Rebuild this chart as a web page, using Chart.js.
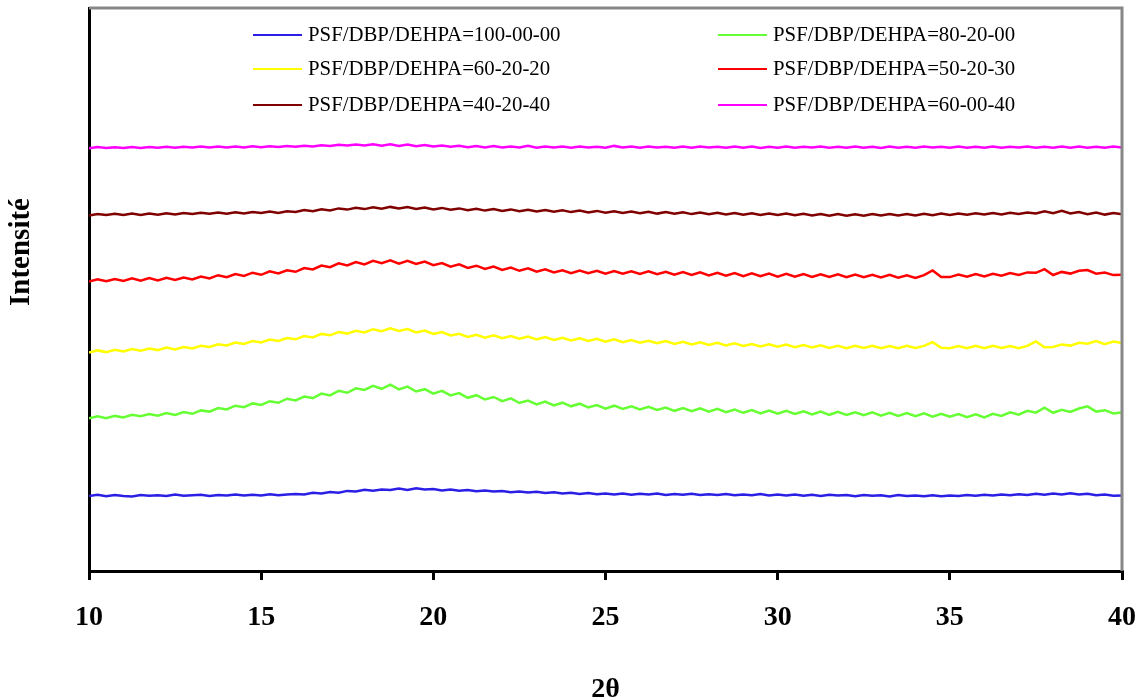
<!DOCTYPE html>
<html>
<head>
<meta charset="utf-8">
<title>DRX des membranes PSF/DBP/DEHPA</title>
<script src="https://cdn.jsdelivr.net/npm/chart.js@4.4.1/dist/chart.umd.min.js"></script>
<style>
  body { margin: 0; background: #fff; }
  #wrap { width: 1148px; height: 700px; }
</style>
</head>
<body>
<div id="wrap"><canvas id="xrd" width="1148" height="700"></canvas></div>
<script>
// 2θ scan: 10° to 40°, 0.25° step
const thetaStart = 10;
const thetaStep = 0.25;
const pointCount = 121;
const twoTheta = Array.from({ length: pointCount }, (_, i) => thetaStart + i * thetaStep);

const xTicks = [10, 15, 20, 25, 30, 35, 40];

const seriesLabels = [
  'PSF/DBP/DEHPA=100-00-00',
  'PSF/DBP/DEHPA=80-20-00',
  'PSF/DBP/DEHPA=60-20-20',
  'PSF/DBP/DEHPA=50-20-30',
  'PSF/DBP/DEHPA=40-20-40',
  'PSF/DBP/DEHPA=60-00-40'
];
const seriesColors = ['#2b1fe6', '#66ff33', '#ffff00', '#ff0000', '#800000', '#ff00ff'];

// intensities (arbitrary units, curves stacked with an offset)
const int100_00_00 = [
  75.0, 76.2, 74.8, 75.9, 75.1, 74.6, 76.0, 75.3,
  75.8, 74.9, 76.4, 75.2, 75.7, 76.3, 75.0, 76.1,
  75.5, 76.6, 75.4, 76.2, 75.6, 76.8, 75.7, 76.5,
  77.0, 76.6, 78.2, 77.4, 79.0, 78.3, 80.1, 79.6,
  81.3, 80.2, 81.6, 80.9, 82.4, 81.1, 82.8, 81.4,
  82.0, 80.6, 81.5, 80.2, 81.0, 79.7, 80.6, 79.5,
  80.1, 78.7, 79.6, 78.4, 79.2, 77.9, 78.7, 77.6,
  78.3, 77.1, 77.9, 76.8, 77.4, 76.5, 77.6, 76.3,
  77.2, 76.4, 77.5, 76.1, 77.0, 76.2, 77.3, 75.9,
  76.8, 76.0, 77.1, 75.8, 76.6, 75.7, 76.9, 75.6,
  76.4, 75.5, 76.6, 75.3, 76.2, 75.1, 76.3, 75.4,
  75.9, 74.8, 76.0, 75.2, 75.7, 74.6, 75.9, 74.9,
  75.6, 74.7, 75.8, 74.8, 75.4, 74.9, 76.0, 75.3,
  76.2, 75.4, 76.5, 75.8, 76.7, 75.9, 77.2, 76.3,
  77.4, 76.6, 77.8, 76.5, 77.3, 75.8, 76.4, 75.2,
  75.6
];

const int80_20_00 = [
  152.6, 154.8, 152.9, 155.1, 153.6, 156.3, 154.7, 156.9,
  155.3, 158.0, 156.1, 158.9, 157.2, 160.6, 159.4, 162.9,
  161.5, 165.3, 163.8, 167.6, 166.0, 169.8, 168.2, 172.3,
  170.6, 174.5, 172.9, 177.4, 175.6, 180.1, 178.2, 182.7,
  181.0, 185.1, 182.2, 186.3, 181.6, 184.4, 179.5, 181.8,
  177.4, 180.2, 175.6, 177.9, 173.2, 175.8, 171.5, 174.0,
  169.8, 172.6, 168.0, 170.5, 166.6, 169.4, 165.5, 168.3,
  164.7, 167.3, 163.6, 166.0, 162.4, 165.3, 162.0, 164.6,
  161.5, 164.1, 161.0, 163.5, 160.2, 163.0, 159.9, 162.6,
  159.4, 162.1, 158.9, 161.4, 158.2, 160.9, 157.6, 160.5,
  157.3, 160.2, 157.0, 159.7, 156.6, 159.5, 156.2, 159.1,
  156.0, 158.8, 155.7, 158.6, 155.4, 158.2, 155.0, 157.9,
  154.9, 157.6, 154.4, 157.3, 154.2, 157.0, 153.8, 156.7,
  153.6, 157.2, 155.0, 158.6, 156.4, 160.1, 158.3, 163.4,
  158.2, 161.3, 159.0, 162.5, 164.6, 159.4, 160.8, 157.6,
  158.4
];

const int60_20_20 = [
  218.4, 220.6, 218.9, 221.2, 219.5, 221.9, 220.3, 222.5,
  220.9, 223.4, 221.6, 224.0, 222.5, 225.3, 224.0, 226.8,
  225.5, 228.4, 227.1, 229.9, 228.6, 231.4, 230.0, 233.0,
  231.7, 235.0, 233.6, 237.1, 235.7, 239.0, 237.4, 240.3,
  238.6, 241.8, 239.9, 242.6, 240.1, 242.0, 238.5, 240.4,
  237.0, 238.9, 235.5, 237.2, 234.0, 236.1, 233.3, 235.6,
  232.8, 234.9, 232.2, 234.4, 231.6, 233.9, 231.1, 233.3,
  230.6, 232.7, 230.0, 232.2, 229.4, 231.6, 228.8, 231.0,
  228.2, 230.3, 227.7, 229.9, 227.1, 229.3, 226.5, 228.7,
  226.0, 228.1, 225.5, 227.6, 225.0, 227.0, 224.5, 226.8,
  224.2, 226.5, 223.8, 226.0, 223.5, 225.6, 223.1, 225.2,
  222.9, 225.1, 223.0, 225.3, 222.8, 225.0, 222.7, 225.2,
  223.0, 225.1, 228.9, 223.2, 222.8, 225.0, 222.9, 225.3,
  222.8, 225.2, 223.0, 224.9, 222.7, 225.1, 229.6, 223.8,
  224.1, 226.6, 225.4, 228.3, 227.2, 229.9, 226.8, 229.4,
  228.0
];

const int50_20_30 = [
  289.4, 291.6, 289.8, 292.0, 290.1, 292.6, 290.4, 292.9,
  290.6, 293.1, 291.0, 293.4, 291.5, 294.5, 292.6, 295.8,
  293.8, 296.9, 295.1, 298.3, 296.2, 299.6, 297.5, 300.7,
  299.2, 303.0, 301.6, 305.4, 303.8, 307.7, 305.6, 309.0,
  306.6, 310.2, 307.9, 310.6, 307.3, 310.1, 307.0, 309.5,
  305.9, 308.0, 304.4, 306.6, 303.0, 305.3, 302.0, 304.4,
  301.0, 303.4, 300.2, 302.6, 299.3, 301.6, 298.5, 300.8,
  297.7, 300.4, 297.8, 300.3, 297.4, 300.0, 297.2, 299.8,
  297.0, 299.6, 296.8, 299.3, 296.4, 299.0, 296.0, 298.6,
  295.6, 298.3, 295.3, 297.9, 294.9, 297.6, 294.7, 297.4,
  294.4, 297.2, 294.3, 296.9, 294.1, 296.8, 294.0, 296.6,
  293.8, 296.5, 293.7, 296.3, 293.5, 296.1, 293.3, 295.8,
  293.0, 295.9, 300.6, 294.1, 293.9, 296.4, 294.2, 296.9,
  294.6, 297.3, 295.4, 298.0, 296.1, 298.6, 298.2, 301.8,
  296.0, 299.1, 297.4, 300.2, 300.9, 297.3, 298.5, 295.9,
  296.2
];

const int40_20_40 = [
  355.6, 357.0, 355.9, 357.2, 356.0, 357.4, 356.1, 357.5,
  356.3, 357.8, 356.6, 358.1, 356.9, 358.3, 357.2, 358.6,
  357.3, 358.8, 357.6, 359.1, 357.9, 359.4, 358.1, 359.8,
  359.0, 360.9, 359.8, 361.7, 360.6, 362.6, 361.4, 363.2,
  361.9, 363.7, 362.2, 364.1, 362.4, 363.9, 362.1, 363.5,
  361.6, 363.1, 361.2, 362.6, 360.7, 362.2, 360.4, 361.9,
  360.0, 361.6, 359.8, 361.3, 359.5, 361.0, 359.2, 360.7,
  358.9, 360.4, 358.6, 360.1, 358.3, 359.8, 358.0, 359.5,
  357.7, 359.3, 357.4, 359.0, 357.2, 358.7, 356.9, 358.5,
  356.7, 358.2, 356.5, 358.0, 356.3, 357.8, 356.1, 357.6,
  355.9, 357.4, 355.7, 357.2, 355.5, 357.0, 355.3, 356.9,
  355.2, 356.8, 355.3, 356.9, 355.4, 357.0, 355.5, 357.1,
  355.6, 357.3, 355.8, 357.4, 356.0, 357.6, 356.2, 357.8,
  356.4, 358.0, 356.6, 358.3, 357.0, 358.6, 357.5, 359.6,
  357.8, 360.1, 357.6, 358.9, 356.8, 358.4, 356.4, 358.0,
  356.8
];

const int60_00_40 = [
  422.8, 423.9, 422.9, 423.8, 423.0, 424.0, 423.1, 424.1,
  423.2, 424.2, 423.3, 424.3, 423.4, 424.4, 423.5, 424.5,
  423.6, 424.6, 423.6, 424.7, 423.7, 424.8, 423.9, 425.0,
  424.2, 425.3, 424.5, 425.7, 425.0, 426.3, 425.4, 426.6,
  425.4, 426.8, 425.3, 426.7, 425.1, 426.4, 424.8, 426.0,
  424.5, 425.6, 424.2, 425.3, 423.8, 425.0, 423.5, 424.9,
  423.4, 424.6, 423.5, 425.2, 423.3, 424.5, 423.4, 424.6,
  423.3, 424.4, 423.5, 424.3, 423.2, 425.1, 423.4, 424.4,
  423.3, 424.5, 423.4, 424.3, 423.3, 424.6, 423.2, 424.4,
  423.4, 424.3, 423.2, 424.5, 423.3, 424.4, 423.1, 424.3,
  423.3, 424.4, 423.2, 424.3, 423.4, 424.5, 423.3, 424.2,
  423.2, 424.4, 423.3, 424.3, 423.1, 424.4, 423.3, 424.3,
  423.2, 424.4, 423.4, 424.3, 423.2, 424.5, 423.3, 424.2,
  423.3, 424.4, 423.2, 424.3, 423.4, 424.4, 423.2, 424.3,
  423.3, 424.5, 423.2, 424.4, 423.3, 424.3, 423.2, 424.4,
  423.6
];

const allSeries = [int100_00_00, int80_20_00, int60_20_20, int50_20_30, int40_20_40, int60_00_40];

const serif = "'Liberation Serif', 'Times New Roman', serif";

const datasets = allSeries.map((vals, k) => ({
  label: seriesLabels[k],
  data: vals.map((v, i) => ({ x: twoTheta[i], y: v })),
  borderColor: seriesColors[k],
  backgroundColor: seriesColors[k],
  borderWidth: 2.5,
  pointRadius: 0,
  tension: 0,
  fill: false
}));

// gray top/right frame, two-column legend, rotated y title
const decorations = {
  id: 'decorations',
  afterDatasetsDraw(chart) {
    const { ctx, chartArea: a } = chart;
    ctx.save();
    ctx.strokeStyle = '#878787';
    ctx.lineWidth = 3;
    ctx.beginPath();
    ctx.moveTo(a.left, a.top);
    ctx.lineTo(a.right, a.top);
    ctx.lineTo(a.right, a.bottom);
    ctx.stroke();
    ctx.restore();
  },
  afterDraw(chart) {
    const { ctx } = chart;
    const cols = [253, 718];
    const rows = [35, 69, 105];
    ctx.save();
    ctx.font = '20.8px ' + serif;
    ctx.textBaseline = 'middle';
    ctx.textAlign = 'left';
    chart.data.datasets.forEach((ds, i) => {
      const x = cols[i % 2];
      const y = rows[Math.floor(i / 2)];
      ctx.strokeStyle = ds.borderColor;
      ctx.lineWidth = 2;
      ctx.beginPath();
      ctx.moveTo(x, y);
      ctx.lineTo(x + 49, y);
      ctx.stroke();
      ctx.fillStyle = '#000';
      ctx.fillText(ds.label, x + 55, y + 1);
    });

    ctx.translate(22, 252);
    ctx.rotate(-Math.PI / 2);
    ctx.font = 'bold 29px ' + serif;
    ctx.textAlign = 'center';
    ctx.fillText('Intensité', 0, 0);
    ctx.restore();
  }
};

new Chart(document.getElementById('xrd'), {
  type: 'line',
  data: { datasets },
  options: {
    responsive: false,
    animation: false,
    devicePixelRatio: 1,
    layout: { padding: { top: 8, right: 26, left: 0, bottom: 0 } },
    plugins: { legend: { display: false }, tooltip: { enabled: false } },
    scales: {
      x: {
        type: 'linear',
        min: xTicks[0],
        max: xTicks[xTicks.length - 1],
        afterBuildTicks: scale => { scale.ticks = xTicks.map(v => ({ value: v })); },
        afterFit: scale => {
          scale.height = 129;
          scale.paddingLeft = 0;
          scale.paddingRight = 0;
        },
        grid: { display: true, drawOnChartArea: false, drawTicks: true, tickLength: 9, color: '#000', lineWidth: 3 },
        border: { display: true, color: '#000', width: 3 },
        ticks: {
          color: '#000',
          padding: 21,
          font: { family: serif, size: 28, weight: 'bold' }
        },
        title: {
          display: true,
          text: '2θ',
          color: '#000',
          padding: { top: 0, bottom: 0 },
          font: { family: serif, size: 28, weight: 'bold', lineHeight: 0.7 }
        }
      },
      y: {
        type: 'linear',
        min: 0,
        max: 563,
        afterFit: scale => { scale.width = 89; },
        grid: { display: false },
        border: { display: true, color: '#000', width: 3 },
        ticks: { display: false }
      }
    }
  },
  plugins: [decorations]
});
</script>
</body>
</html>
